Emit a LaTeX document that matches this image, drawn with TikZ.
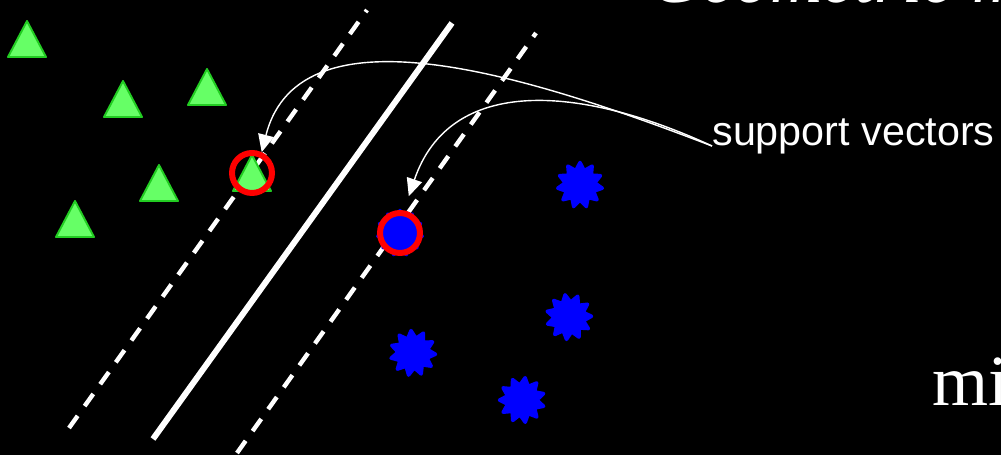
\documentclass[tikz,border=0pt]{standalone}
\usepackage{fontspec}
\setmainfont{Liberation Serif}
\setsansfont{Liberation Sans}
\usetikzlibrary{arrows.meta, shapes.geometric}
\definecolor{svmGreen}{HTML}{66FF66}
\definecolor{svmEdge}{HTML}{22CC22}
\definecolor{svmBlue}{HTML}{0000FF}
\definecolor{svmRed}{HTML}{FF0000}
\tikzset{
  hyperplane/.style = {white, line width=3.4pt},
  marginline/.style = {white, line width=2.5pt, dash pattern=on 8.5pt off 6.8pt},
  trimark/.style    = {fill=svmGreen, draw=svmEdge, line width=1.1pt, line join=round},
  starmark/.style   = {star, star points=11, star point ratio=1.5, minimum size=0.9cm,
                       inner sep=0pt, fill=svmBlue, draw=svmBlue, line width=2pt,
                       line join=round},
  svring/.style     = {circle, draw=svmRed, line width=3.4pt, minimum size=0.8cm, inner sep=0pt},
  callout/.style    = {white, line width=0.8pt, -{Triangle[length=10pt, width=9pt]}},
  lbl/.style        = {white, inner sep=0pt, font=\sffamily\fontsize{23.5}{28}\selectfont},
  ttl/.style        = {white, inner sep=0pt, font=\itshape\fontsize{41}{48}\selectfont},
  big/.style        = {white, inner sep=0pt, font=\fontsize{41}{48}\selectfont},
}

\begin{document}
\begin{tikzpicture}[x=0.02cm, y=-0.02cm]
  \useasboundingbox (0,0) rectangle (1001,455);
  \clip (0,0) rectangle (1001,455);
  \fill[black] (0,0) rectangle (1001,455);

  % separating hyperplane and the two margins
  \draw[hyperplane] (153,439) -- (452,23);
  \draw[marginline] (69,428) -- (367,10);
  \draw[marginline] (237,453) -- (536,33);

  % class +1 (triangles)
  \foreach \x/\y in {27/21, 123/81, 207/69, 159/165, 75/201}
    \filldraw[trimark] (\x,\y) -- ++(19,36) -- ++(-38,0) -- cycle;
  \filldraw[trimark] (252,155) -- ++(19,36) -- ++(-38,0) -- cycle;
  \node[svring] (svA) at (252,173) {};

  % class -1 (splats)
  \foreach \x/\y/\r [count=\i] in {580/185/0, 569/317/10, 413/353/5, 522/400/-8}
    \node[starmark, rotate=\r] (st\i) at (\x,\y) {};
  \node[starmark] (st0) at (400,233) {};
  \node[svring, fill=svmBlue] (svB) at (400,233) {};

  % labels
  \node[lbl, anchor=base west] (sv) at (712,146) {support vectors};
  \node[ttl, anchor=base west] (head) at (650,3) {Geometric m};
  \node[big, anchor=base west] (mi) at (932,406) {mi};

  % callouts
  \draw[callout] (sv.base west) .. controls (540,80) and (300,0) .. (svA.65);
  \draw[callout, shorten >=8.5pt] (sv.base west) .. controls (580,85) and (450,75) .. (svB.80);
\end{tikzpicture}
\end{document}
